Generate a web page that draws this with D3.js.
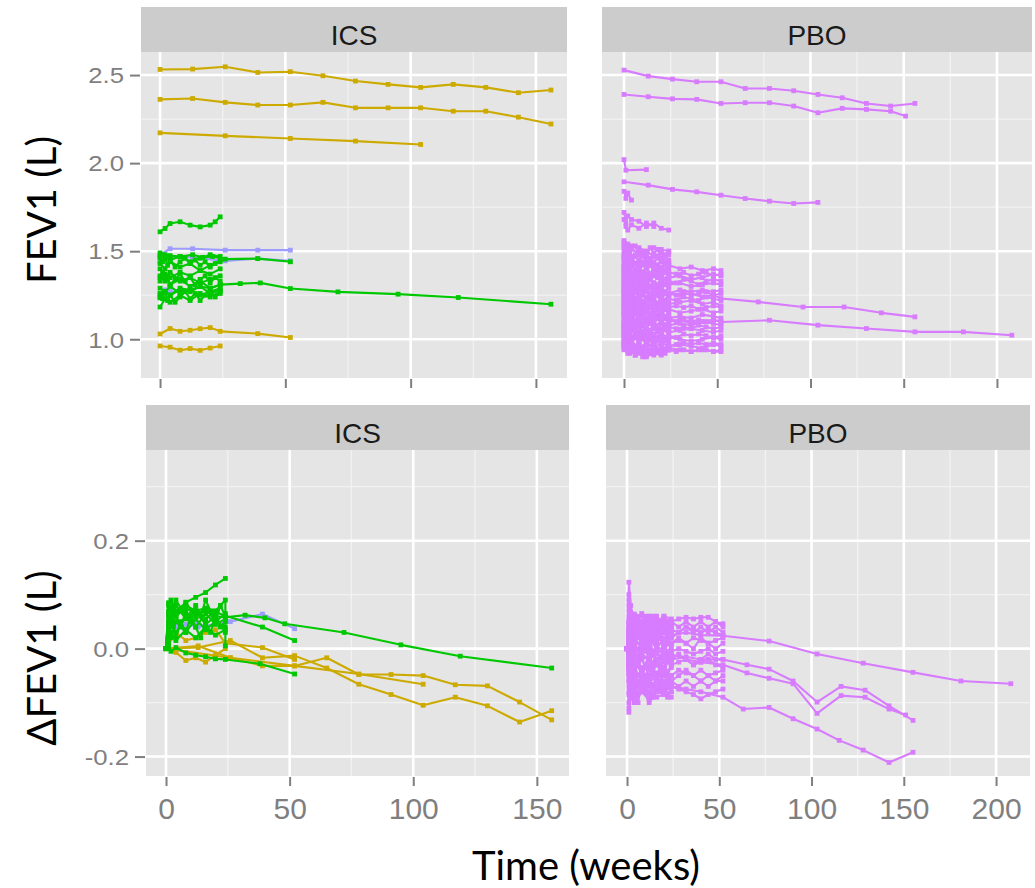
<!DOCTYPE html>
<html>
<head>
<meta charset="utf-8">
<script src="https://cdn.jsdelivr.net/npm/d3@7"></script>
<style>
  html, body { margin: 0; padding: 0; background: #ffffff; }
  svg { display: block; }
</style>
</head>
<body>
<svg id="chart" width="1035" height="888"></svg>
<script>
// ---------------- visit schedules (weeks) ----------------
const visits13   = [0, 13, 26, 39, 52, 65, 78, 91, 104, 117, 130, 143, 156];
const visitsWk24 = [0, 2, 4, 8, 12, 16, 20, 24];
const visitsWk52 = [0, 4, 8, 12, 16, 20, 24, 30, 36, 42, 48, 52];
const visitsD24  = [0, 1, 2, 4, 8, 12, 16, 20, 24];
const visitsD52  = [0, 1, 2, 4, 8, 12, 16, 20, 24, 28, 32, 36, 40, 44, 48, 52];
const visitsDense24 = [0, 1, 2, 3, 4, 6, 8, 10, 12, 14, 16, 18, 20, 22, 24];
const visitsDense52 = [0, 2, 4, 6, 8, 12, 16, 20, 24, 28, 32, 36, 40, 44, 48, 52];

// ---------------- tick labels ----------------
const ticksFev1  = [1.0, 1.5, 2.0, 2.5];
const minorFev1  = [1.25, 1.75, 2.25];
const ticksDelta = [-0.2, 0.0, 0.2];
const minorDelta = [-0.1, 0.1, 0.3];
const ticksWeeksIcs = [0, 50, 100, 150];
const minorWeeksIcs = [25, 75, 125];
const ticksWeeksPbo = [0, 50, 100, 150, 200];
const minorWeeksPbo = [25, 75, 125, 175];
const stripLabels = ["ICS", "PBO"];

// ---------------- FEV1 (L), ICS arm ----------------
const icsFev1 = [
  { grp: "gold",  t: visits13, v: [2.532, 2.534, 2.547, 2.515, 2.519, 2.496, 2.466, 2.447, 2.430, 2.447, 2.430, 2.400, 2.415] },
  { grp: "gold",  t: visits13, v: [2.362, 2.367, 2.345, 2.330, 2.330, 2.345, 2.314, 2.314, 2.314, 2.295, 2.295, 2.261, 2.222] },
  { grp: "gold",  t: [0, 26, 52, 78, 104], v: [2.172, 2.155, 2.140, 2.125, 2.106] },
  { grp: "gold",  t: [0, 4, 8, 12, 16, 20, 24, 39, 52], v: [1.030, 1.061, 1.045, 1.051, 1.060, 1.066, 1.045, 1.032, 1.010] },
  { grp: "gold",  t: [0, 4, 8, 12, 16, 20, 24], v: [0.962, 0.955, 0.938, 0.947, 0.937, 0.950, 0.962] },
  { grp: "blue",  t: [0, 4, 13, 26, 39, 52], v: [1.480, 1.514, 1.514, 1.506, 1.506, 1.506] },
  { grp: "blue",  t: [0, 4, 8, 13, 26, 39, 52], v: [1.440, 1.460, 1.470, 1.465, 1.445, 1.458, 1.445] },
  { grp: "blue",  t: [0, 2, 4, 8, 12], v: [1.255, 1.280, 1.272, 1.268, 1.285] },
  { grp: "green", t: [0, 2, 4, 8, 12, 16, 20, 22, 24], v: [1.610, 1.629, 1.657, 1.667, 1.648, 1.638, 1.648, 1.667, 1.695] },
  { grp: "green", t: [0, 4, 8, 13, 17, 21, 26, 39, 52], v: [1.490, 1.475, 1.470, 1.480, 1.465, 1.470, 1.455, 1.458, 1.440] },
  { grp: "green", t: visitsWk24, v: [1.460, 1.480, 1.450, 1.470, 1.440, 1.460, 1.480, 1.470] },
  { grp: "green", t: visitsWk24, v: [1.430, 1.400, 1.440, 1.410, 1.430, 1.390, 1.420, 1.440] },
  { grp: "green", t: visitsWk24, v: [1.400, 1.370, 1.350, 1.380, 1.360, 1.390, 1.370, 1.400] },
  { grp: "green", t: visitsWk24, v: [1.360, 1.340, 1.380, 1.330, 1.350, 1.320, 1.340, 1.360] },
  { grp: "green", t: visitsWk24, v: [1.330, 1.360, 1.310, 1.340, 1.300, 1.330, 1.290, 1.310] },
  { grp: "green", t: visitsWk24, v: [1.290, 1.270, 1.300, 1.260, 1.280, 1.250, 1.270, 1.290] },
  { grp: "green", t: visitsWk24, v: [1.240, 1.270, 1.250, 1.280, 1.270, 1.300, 1.260, 1.280] },
  { grp: "green", t: visitsWk24, v: [1.183, 1.230, 1.210, 1.250, 1.220, 1.260, 1.240, 1.270] },
  { grp: "green", t: visitsDense24, v: [1.47, 1.44, 1.46, 1.42, 1.45, 1.41, 1.44, 1.46, 1.43, 1.45, 1.42, 1.44, 1.41, 1.43, 1.45] },
  { grp: "green", t: visitsDense24, v: [1.35, 1.38, 1.33, 1.36, 1.31, 1.34, 1.37, 1.33, 1.35, 1.31, 1.34, 1.36, 1.32, 1.35, 1.33] },
  { grp: "green", t: visitsDense24, v: [1.26, 1.23, 1.27, 1.22, 1.25, 1.21, 1.24, 1.27, 1.23, 1.26, 1.22, 1.25, 1.28, 1.24, 1.26] },
  { grp: "green", t: [0, 2, 4, 8, 12, 16, 20, 24, 32, 40, 52, 71, 95, 119, 156],
    v: [1.235, 1.270, 1.250, 1.290, 1.280, 1.300, 1.290, 1.310, 1.316, 1.320, 1.288, 1.269, 1.256, 1.237, 1.199] }
];

// ---------------- FEV1 (L), PBO arm ----------------
const pboFev1 = [
  { t: visits13, v: [2.528, 2.494, 2.477, 2.462, 2.462, 2.424, 2.424, 2.411, 2.390, 2.371, 2.339, 2.324, 2.339] },
  { t: [0, 13, 26, 39, 52, 65, 78, 91, 104, 117, 130, 143, 151], v: [2.390, 2.377, 2.365, 2.362, 2.339, 2.343, 2.343, 2.324, 2.286, 2.311, 2.305, 2.295, 2.267] },
  { t: [0, 1, 12], v: [2.020, 1.960, 1.963] },
  { t: [0, 13, 26, 39, 52, 65, 78, 91, 104], v: [1.894, 1.875, 1.851, 1.837, 1.818, 1.799, 1.784, 1.771, 1.777] },
  { t: [0, 1, 2, 4], v: [1.840, 1.800, 1.830, 1.790] },
  { t: visitsD24, v: [1.720, 1.660, 1.700, 1.680, 1.670, 1.640, 1.660, 1.630, 1.620] },
  { t: [0, 1, 2, 4, 8, 12, 16], v: [1.680, 1.640, 1.620, 1.650, 1.630, 1.660, 1.640] },
  { t: visitsWk24, v: [1.560, 1.540, 1.530, 1.520, 1.500, 1.520, 1.510, 1.500] },
  { t: visitsWk24, v: [1.530, 1.490, 1.520, 1.480, 1.500, 1.470, 1.490, 1.480] },
  { t: visitsWk24, v: [1.500, 1.520, 1.470, 1.490, 1.450, 1.480, 1.460, 1.440] },
  { t: visitsWk24, v: [1.470, 1.440, 1.460, 1.420, 1.450, 1.430, 1.410, 1.430] },
  { t: visitsWk24, v: [1.450, 1.470, 1.430, 1.440, 1.400, 1.420, 1.440, 1.400] },
  { t: visitsWk24, v: [1.420, 1.390, 1.410, 1.380, 1.400, 1.360, 1.390, 1.370] },
  { t: visitsWk24, v: [1.390, 1.410, 1.360, 1.390, 1.350, 1.370, 1.340, 1.360] },
  { t: visitsWk24, v: [1.360, 1.330, 1.350, 1.310, 1.340, 1.320, 1.300, 1.330] },
  { t: visitsWk24, v: [1.330, 1.350, 1.300, 1.330, 1.290, 1.310, 1.330, 1.290] },
  { t: visitsWk24, v: [1.300, 1.270, 1.290, 1.260, 1.280, 1.240, 1.270, 1.250] },
  { t: visitsWk24, v: [1.270, 1.290, 1.240, 1.270, 1.230, 1.260, 1.220, 1.240] },
  { t: visitsWk24, v: [1.240, 1.210, 1.230, 1.190, 1.220, 1.200, 1.180, 1.210] },
  { t: visitsWk24, v: [1.210, 1.230, 1.180, 1.210, 1.170, 1.190, 1.210, 1.170] },
  { t: visitsWk24, v: [1.180, 1.150, 1.170, 1.140, 1.160, 1.120, 1.150, 1.130] },
  { t: visitsWk24, v: [1.150, 1.170, 1.120, 1.150, 1.110, 1.140, 1.100, 1.120] },
  { t: visitsWk24, v: [1.120, 1.090, 1.110, 1.070, 1.100, 1.080, 1.060, 1.090] },
  { t: visitsWk24, v: [1.090, 1.110, 1.060, 1.090, 1.050, 1.070, 1.090, 1.050] },
  { t: visitsWk24, v: [1.060, 1.030, 1.050, 1.020, 1.040, 1.000, 1.030, 1.010] },
  { t: visitsWk24, v: [1.030, 1.050, 1.000, 1.030, 0.990, 1.020, 0.980, 1.000] },
  { t: visitsWk24, v: [1.000, 0.970, 0.990, 0.950, 0.980, 0.960, 0.940, 0.970] },
  { t: visitsWk24, v: [0.980, 0.960, 0.940, 0.920, 0.910, 0.930, 0.950, 0.940] },
  { t: visitsWk24, v: [0.970, 0.990, 0.950, 0.970, 0.930, 0.950, 0.920, 0.940] },
  { t: visitsDense24, v: [1.55, 1.52, 1.54, 1.49, 1.51, 1.53, 1.48, 1.50, 1.47, 1.52, 1.49, 1.51, 1.46, 1.48, 1.50] },
  { t: visitsDense24, v: [1.48, 1.51, 1.46, 1.50, 1.44, 1.47, 1.45, 1.49, 1.43, 1.46, 1.44, 1.41, 1.45, 1.43, 1.42] },
  { t: visitsDense24, v: [1.43, 1.40, 1.44, 1.38, 1.42, 1.39, 1.43, 1.37, 1.40, 1.36, 1.41, 1.38, 1.35, 1.39, 1.37] },
  { t: visitsDense24, v: [1.37, 1.35, 1.32, 1.36, 1.33, 1.37, 1.31, 1.34, 1.30, 1.35, 1.32, 1.29, 1.33, 1.31, 1.34] },
  { t: visitsDense24, v: [1.31, 1.34, 1.29, 1.27, 1.32, 1.28, 1.25, 1.30, 1.27, 1.24, 1.29, 1.26, 1.23, 1.27, 1.25] },
  { t: visitsDense24, v: [1.25, 1.22, 1.26, 1.20, 1.23, 1.19, 1.24, 1.21, 1.18, 1.22, 1.20, 1.17, 1.21, 1.19, 1.16] },
  { t: visitsDense24, v: [1.19, 1.21, 1.16, 1.19, 1.14, 1.17, 1.13, 1.16, 1.12, 1.15, 1.11, 1.14, 1.16, 1.12, 1.14] },
  { t: visitsDense24, v: [1.13, 1.10, 1.14, 1.08, 1.11, 1.07, 1.12, 1.09, 1.06, 1.10, 1.08, 1.05, 1.09, 1.07, 1.06] },
  { t: visitsDense24, v: [1.07, 1.04, 1.02, 1.06, 1.01, 1.04, 1.00, 1.03, 0.99, 1.02, 0.98, 1.01, 1.03, 0.99, 1.01] },
  { t: visitsDense24, v: [1.01, 0.98, 1.00, 0.96, 0.99, 0.95, 0.97, 0.93, 0.96, 0.92, 0.95, 0.93, 0.96, 0.94, 0.95] },
  { t: visitsDense24, v: [0.95, 0.97, 0.94, 0.92, 0.95, 0.91, 0.93, 0.90, 0.92, 0.94, 0.91, 0.93, 0.95, 0.92, 0.94] },
  { t: visitsDense24, v: [1.52, 1.49, 1.47, 1.50, 1.46, 1.48, 1.51, 1.47, 1.49, 1.45, 1.48, 1.46, 1.49, 1.47, 1.45] },
  { t: visitsDense24, v: [1.46, 1.43, 1.47, 1.41, 1.45, 1.42, 1.40, 1.44, 1.41, 1.43, 1.39, 1.42, 1.40, 1.43, 1.41] },
  { t: visitsDense24, v: [1.40, 1.42, 1.37, 1.40, 1.35, 1.38, 1.36, 1.33, 1.37, 1.34, 1.38, 1.35, 1.37, 1.34, 1.36] },
  { t: visitsDense24, v: [1.34, 1.31, 1.35, 1.29, 1.33, 1.30, 1.34, 1.28, 1.31, 1.29, 1.26, 1.30, 1.28, 1.31, 1.29] },
  { t: visitsDense24, v: [1.28, 1.30, 1.26, 1.24, 1.28, 1.23, 1.27, 1.25, 1.22, 1.26, 1.23, 1.20, 1.24, 1.22, 1.20] },
  { t: visitsDense24, v: [1.22, 1.19, 1.23, 1.17, 1.21, 1.18, 1.16, 1.20, 1.17, 1.19, 1.15, 1.18, 1.14, 1.17, 1.15] },
  { t: visitsDense24, v: [1.16, 1.18, 1.13, 1.16, 1.12, 1.15, 1.11, 1.14, 1.10, 1.13, 1.09, 1.12, 1.10, 1.08, 1.11] },
  { t: visitsDense24, v: [1.10, 1.07, 1.11, 1.05, 1.09, 1.06, 1.04, 1.08, 1.05, 1.03, 1.07, 1.04, 1.02, 1.06, 1.04] },
  { t: visitsDense24, v: [1.04, 1.06, 1.01, 1.04, 0.99, 1.02, 0.98, 1.01, 0.97, 1.00, 0.96, 0.99, 0.97, 1.00, 0.98] },
  { t: visitsWk52, v: [1.410, 1.440, 1.400, 1.430, 1.410, 1.390, 1.420, 1.400, 1.410, 1.390, 1.400, 1.390] },
  { t: visitsWk52, v: [1.360, 1.330, 1.370, 1.340, 1.360, 1.330, 1.350, 1.360, 1.340, 1.350, 1.370, 1.360] },
  { t: visitsWk52, v: [1.320, 1.340, 1.300, 1.330, 1.290, 1.320, 1.310, 1.320, 1.300, 1.310, 1.320, 1.310] },
  { t: visitsWk52, v: [1.270, 1.250, 1.280, 1.240, 1.270, 1.250, 1.260, 1.280, 1.270, 1.280, 1.270, 1.280] },
  { t: visitsWk52, v: [1.220, 1.240, 1.200, 1.230, 1.210, 1.220, 1.200, 1.210, 1.220, 1.200, 1.210, 1.190] },
  { t: visitsWk52, v: [1.180, 1.150, 1.190, 1.160, 1.180, 1.150, 1.170, 1.150, 1.160, 1.170, 1.150, 1.160] },
  { t: visitsWk52, v: [1.140, 1.160, 1.120, 1.150, 1.130, 1.140, 1.120, 1.130, 1.120, 1.140, 1.130, 1.120] },
  { t: visitsWk52, v: [1.100, 1.080, 1.110, 1.090, 1.070, 1.100, 1.080, 1.090, 1.080, 1.100, 1.090, 1.080] },
  { t: visitsWk52, v: [1.050, 1.070, 1.040, 1.060, 1.030, 1.050, 1.040, 1.050, 1.060, 1.050, 1.040, 1.050] },
  { t: visitsWk52, v: [1.020, 0.990, 1.010, 0.980, 1.000, 0.990, 1.010, 1.000, 0.990, 1.000, 1.010, 1.000] },
  { t: visitsWk52, v: [0.990, 0.960, 0.940, 0.970, 0.950, 0.980, 0.960, 0.970, 0.960, 0.950, 0.970, 0.960] },
  { t: visitsWk52, v: [0.960, 0.930, 0.950, 0.920, 0.940, 0.930, 0.950, 0.940, 0.930, 0.940, 0.930, 0.930] },
  { t: visitsDense52, v: [1.39, 1.36, 1.38, 1.35, 1.37, 1.34, 1.38, 1.36, 1.38, 1.37, 1.38, 1.36, 1.37, 1.38, 1.36, 1.37] },
  { t: visitsDense52, v: [1.34, 1.31, 1.33, 1.30, 1.32, 1.29, 1.31, 1.30, 1.33, 1.32, 1.34, 1.33, 1.31, 1.33, 1.34, 1.33] },
  { t: visitsDense52, v: [1.29, 1.31, 1.27, 1.30, 1.26, 1.28, 1.25, 1.29, 1.26, 1.25, 1.27, 1.25, 1.26, 1.27, 1.25, 1.26] },
  { t: visitsDense52, v: [1.24, 1.21, 1.23, 1.20, 1.24, 1.21, 1.22, 1.19, 1.23, 1.22, 1.24, 1.23, 1.22, 1.24, 1.23, 1.22] },
  { t: visitsDense52, v: [1.19, 1.21, 1.17, 1.20, 1.16, 1.19, 1.17, 1.15, 1.18, 1.19, 1.18, 1.19, 1.17, 1.18, 1.19, 1.18] },
  { t: visitsDense52, v: [1.15, 1.12, 1.14, 1.11, 1.13, 1.10, 1.14, 1.11, 1.12, 1.10, 1.11, 1.10, 1.11, 1.10, 1.11, 1.10] },
  { t: visitsDense52, v: [1.07, 1.05, 1.08, 1.04, 1.07, 1.03, 1.06, 1.04, 1.07, 1.06, 1.07, 1.06, 1.08, 1.07, 1.06, 1.07] },
  { t: visitsDense52, v: [1.03, 1.01, 0.98, 1.02, 0.99, 1.01, 0.97, 1.00, 1.02, 1.01, 1.03, 1.02, 1.03, 1.02, 1.01, 1.02] },
  { t: visitsDense52, v: [0.98, 0.95, 0.97, 0.94, 0.96, 0.93, 0.95, 0.92, 0.96, 0.97, 0.98, 0.97, 0.98, 0.97, 0.98, 0.97] },
  { t: visitsDense52, v: [0.94, 0.92, 0.95, 0.91, 0.93, 0.90, 0.92, 0.91, 0.94, 0.93, 0.94, 0.93, 0.94, 0.94, 0.93, 0.94] },
  { t: [0, 4, 8, 12, 16, 20, 24, 30, 36, 42, 48, 52, 72, 96, 118, 138, 156],
    v: [1.260, 1.280, 1.250, 1.270, 1.260, 1.240, 1.260, 1.250, 1.260, 1.240, 1.250, 1.231, 1.212, 1.183, 1.183, 1.150, 1.127] },
  { t: [0, 4, 8, 12, 16, 20, 24, 30, 36, 42, 48, 52, 78, 104, 130, 156, 182, 208],
    v: [1.080, 1.100, 1.090, 1.110, 1.100, 1.120, 1.100, 1.110, 1.090, 1.100, 1.110, 1.098, 1.108, 1.080, 1.061, 1.042, 1.042, 1.023] }
];

// ---------------- change from baseline (L), ICS arm ----------------
const icsDelta = [
  { grp: "gold",  t: visits13, v: [0, 0.002, 0.015, -0.017, -0.013, -0.036, -0.066, -0.085, -0.105, -0.090, -0.106, -0.136, -0.115] },
  { grp: "gold",  t: visits13, v: [0, 0.005, -0.017, -0.032, -0.032, -0.017, -0.048, -0.048, -0.050, -0.067, -0.069, -0.099, -0.132] },
  { grp: "gold",  t: [0, 26, 52, 78, 104], v: [0, -0.017, -0.032, -0.047, -0.066] },
  { grp: "gold",  t: [0, 4, 8, 12, 16, 20, 24, 39, 52], v: [0, 0.030, 0.015, 0.020, 0.030, 0.035, 0.010, 0.002, -0.020] },
  { grp: "gold",  t: [0, 4, 8, 12, 16, 20, 24], v: [0, -0.007, -0.022, -0.017, -0.025, -0.012, 0.000] },
  { grp: "blue",  t: [0, 1, 2, 4, 8, 13, 26, 39, 52], v: [0, 0.035, 0.050, 0.040, 0.045, 0.040, 0.050, 0.064, 0.037] },
  { grp: "blue",  t: visitsD24, v: [0, 0.020, 0.030, 0.045, 0.035, 0.050, 0.040, 0.045, 0.050] },
  { grp: "green", t: visitsD24, v: [0, 0.030, 0.045, 0.060, 0.086, 0.095, 0.104, 0.118, 0.130] },
  { grp: "green", t: [0, 1, 2, 4, 8, 12, 16, 20, 24, 32, 40, 48, 72, 95, 119, 156],
    v: [0, 0.050, 0.070, 0.060, 0.075, 0.065, 0.070, 0.060, 0.058, 0.062, 0.057, 0.046, 0.030, 0.007, -0.014, -0.036] },
  { grp: "green", t: [0, 1, 2, 4, 8, 12, 16, 20, 24, 38, 52], v: [0, 0.005, -0.005, 0.002, -0.008, -0.012, -0.015, -0.019, -0.020, -0.028, -0.047] },
  { grp: "green", t: [0, 1, 2, 4, 8, 12, 16, 20, 24, 39, 52], v: [0, 0.060, 0.075, 0.065, 0.080, 0.070, 0.075, 0.068, 0.061, 0.040, 0.015] },
  { grp: "green", t: visitsD24, v: [0, 0.080, 0.090, 0.070, 0.085, 0.060, 0.075, 0.050, 0.065] },
  { grp: "green", t: visitsD24, v: [0, 0.040, 0.020, 0.050, 0.030, 0.055, 0.035, 0.050, 0.040] },
  { grp: "green", t: visitsD24, v: [0, 0.020, 0.045, 0.030, 0.060, 0.040, 0.065, 0.045, 0.055] },
  { grp: "green", t: visitsD24, v: [0, 0.065, 0.050, 0.080, 0.055, 0.070, 0.045, 0.060, 0.030] },
  { grp: "green", t: visitsD24, v: [0, 0.010, 0.030, 0.015, 0.035, 0.020, 0.040, 0.025, 0.035] },
  { grp: "green", t: visitsDense24, v: [0, 0.07, 0.05, 0.08, 0.06, 0.04, 0.07, 0.05, 0.08, 0.06, 0.09, 0.07, 0.05, 0.08, 0.06] },
  { grp: "green", t: visitsDense24, v: [0, 0.03, 0.06, 0.04, 0.02, 0.05, 0.03, 0.06, 0.04, 0.02, 0.05, 0.03, 0.06, 0.04, 0.05] },
  { grp: "green", t: [0, 1, 2, 4, 8, 12, 16, 20, 24, 24], v: [0, 0.085, 0.070, 0.090, 0.060, 0.075, 0.055, 0.070, 0.090, 0.005] }
];

// ---------------- change from baseline (L), PBO arm ----------------
const pboDelta = [
  { t: visitsD24, v: [0, 0.123, 0.080, 0.050, 0.040, 0.030, 0.050, 0.040, 0.030] },
  { t: visitsD24, v: [0, 0.100, 0.060, 0.064, 0.050, 0.060, 0.040, 0.055, 0.050] },
  { t: visitsD24, v: [0, -0.118, -0.090, -0.100, -0.080, -0.095, -0.090, -0.085, -0.080] },
  { t: visitsD24, v: [0, 0.060, 0.040, 0.055, 0.060, 0.045, 0.050, 0.060, 0.055] },
  { t: visitsD24, v: [0, 0.030, 0.045, 0.020, 0.035, 0.015, 0.030, 0.010, 0.020] },
  { t: visitsD24, v: [0, -0.030, -0.010, -0.040, -0.020, -0.050, -0.030, -0.045, -0.035] },
  { t: visitsD24, v: [0, 0.015, -0.005, 0.020, 0.000, 0.025, 0.005, 0.015, 0.010] },
  { t: visitsD24, v: [0, -0.060, -0.075, -0.050, -0.070, -0.055, -0.080, -0.060, -0.070] },
  { t: visitsD24, v: [0, 0.045, 0.025, 0.040, 0.020, 0.035, 0.015, 0.030, 0.040] },
  { t: visitsD24, v: [0, -0.020, -0.040, -0.025, -0.045, -0.030, -0.020, -0.035, -0.015] },
  { t: visitsD24, v: [0, -0.085, -0.065, -0.090, -0.070, -0.100, -0.080, -0.075, -0.090] },
  { t: visitsD24, v: [0, 0.005, 0.020, -0.010, 0.010, -0.015, 0.005, -0.005, 0.000] },
  { t: visitsD24, v: [0, 0.080, 0.055, 0.060, 0.035, 0.050, 0.030, 0.045, 0.025] },
  { t: visitsD24, v: [0, -0.045, -0.030, -0.055, -0.040, -0.060, -0.045, -0.050, -0.060] },
  { t: visitsD24, v: [0, 0.035, 0.060, 0.045, 0.065, 0.040, 0.055, 0.035, 0.045] },
  { t: visitsD24, v: [0, -0.100, -0.080, -0.095, -0.075, -0.090, -0.070, -0.085, -0.065] },
  { t: visitsDense24, v: [0, 0.07, 0.04, 0.06, 0.03, 0.05, 0.02, 0.04, 0.06, 0.03, 0.05, 0.04, 0.06, 0.03, 0.05] },
  { t: visitsDense24, v: [0, -0.04, -0.06, -0.03, -0.05, -0.02, -0.04, -0.07, -0.03, -0.05, -0.06, -0.04, -0.02, -0.05, -0.03] },
  { t: visitsDense24, v: [0, 0.02, -0.01, 0.03, 0.01, -0.02, 0.02, 0.00, 0.03, -0.01, 0.01, 0.02, -0.01, 0.01, 0.00] },
  { t: visitsDense24, v: [0, -0.08, -0.06, -0.09, -0.07, -0.10, -0.06, -0.08, -0.09, -0.07, -0.05, -0.08, -0.06, -0.09, -0.07] },
  { t: visitsDense24, v: [0, 0.05, 0.06, 0.03, 0.05, 0.02, 0.04, 0.06, 0.03, 0.05, 0.02, 0.04, 0.05, 0.02, 0.04] },
  { t: visitsDense24, v: [0, -0.02, -0.03, -0.01, -0.04, -0.02, -0.05, -0.03, -0.01, -0.04, -0.02, -0.03, -0.05, -0.02, -0.03] },
  { t: visitsDense24, v: [0, 0.09, 0.06, 0.04, 0.06, 0.05, 0.03, 0.05, 0.04, 0.06, 0.03, 0.05, 0.04, 0.02, 0.04] },
  { t: visitsDense24, v: [0, -0.06, -0.05, -0.07, -0.04, -0.06, -0.08, -0.05, -0.07, -0.04, -0.06, -0.05, -0.07, -0.06, -0.05] },
  { t: visitsDense24, v: [0, 0.01, 0.03, 0.00, 0.02, 0.04, 0.01, 0.03, 0.00, 0.02, 0.01, 0.03, 0.00, 0.02, 0.01] },
  { t: visitsDense24, v: [0, -0.11, -0.08, -0.06, -0.09, -0.07, -0.05, -0.08, -0.06, -0.09, -0.07, -0.06, -0.08, -0.07, -0.08] },
  { t: visitsDense24, v: [0, 0.04, 0.02, 0.05, 0.03, 0.06, 0.04, 0.02, 0.05, 0.03, 0.06, 0.04, 0.03, 0.05, 0.03] },
  { t: visitsDense24, v: [0, -0.01, 0.01, -0.03, -0.01, 0.00, -0.02, 0.01, -0.01, -0.03, 0.00, -0.02, 0.01, -0.01, -0.02] },
  { t: visitsD52, v: [0, 0.050, 0.040, 0.060, 0.045, 0.055, 0.050, 0.045, 0.050, 0.055, 0.058, 0.055, 0.058, 0.058, 0.050, 0.046] },
  { t: visitsD52, v: [0, 0.030, 0.020, 0.035, 0.025, 0.030, 0.020, 0.030, 0.035, 0.030, 0.040, 0.035, 0.030, 0.035, 0.030, 0.025] },
  { t: visitsD52, v: [0, 0.010, 0.020, 0.005, 0.015, 0.010, 0.020, 0.015, 0.010, 0.015, 0.010, 0.020, 0.015, 0.010, 0.015, 0.020] },
  { t: visitsD52, v: [0, -0.010, 0.000, -0.015, -0.005, -0.010, 0.000, -0.010, -0.005, 0.000, -0.005, -0.010, -0.005, 0.000, -0.010, -0.005] },
  { t: visitsD52, v: [0, -0.030, -0.020, -0.025, -0.035, -0.020, -0.030, -0.025, -0.030, -0.025, -0.020, -0.030, -0.025, -0.020, -0.030, -0.035] },
  { t: visitsD52, v: [0, -0.050, -0.040, -0.045, -0.055, -0.040, -0.050, -0.045, -0.050, -0.040, -0.045, -0.050, -0.040, -0.050, -0.045, -0.040] },
  { t: visitsD52, v: [0, -0.070, -0.060, -0.065, -0.075, -0.060, -0.070, -0.065, -0.070, -0.075, -0.080, -0.085, -0.093, -0.085, -0.080, -0.075] },
  { t: visitsDense52, v: [0, 0.04, 0.05, 0.03, 0.05, 0.04, 0.06, 0.04, 0.05, 0.04, 0.05, 0.04, 0.05, 0.04, 0.05, 0.04] },
  { t: visitsDense52, v: [0, 0.02, 0.01, 0.03, 0.01, 0.02, 0.00, 0.02, 0.01, 0.02, 0.01, 0.00, 0.02, 0.01, 0.00, 0.01] },
  { t: visitsDense52, v: [0, -0.02, -0.01, -0.03, -0.01, -0.02, -0.03, -0.01, -0.02, -0.01, -0.02, -0.03, -0.02, -0.01, -0.02, -0.02] },
  { t: visitsDense52, v: [0, -0.04, -0.03, -0.05, -0.04, -0.03, -0.05, -0.04, -0.06, -0.05, -0.04, -0.05, -0.06, -0.05, -0.06, -0.05] },
  { t: visitsDense52, v: [0, -0.06, -0.05, -0.07, -0.06, -0.08, -0.06, -0.07, -0.06, -0.07, -0.06, -0.07, -0.06, -0.07, -0.06, -0.06] },
  { t: visitsDense52, v: [0, 0.03, 0.04, 0.02, 0.04, 0.03, 0.04, 0.03, 0.02, 0.03, 0.04, 0.03, 0.04, 0.03, 0.04, 0.03] },
  { t: [0, 1, 2, 4, 8, 12, 16, 20, 24, 32, 40, 52, 77, 103, 128, 155, 181, 208],
    v: [0, 0.020, 0.030, 0.025, 0.035, 0.030, 0.020, 0.030, 0.025, 0.030, 0.025, 0.024, 0.014, -0.010, -0.027, -0.044, -0.060, -0.065] },
  { t: [0, 1, 2, 4, 8, 12, 16, 20, 24, 32, 40, 52, 65, 77, 90, 103, 116, 129, 142, 155],
    v: [0, -0.010, -0.020, -0.010, -0.015, -0.020, -0.010, -0.015, -0.020, -0.015, -0.020, -0.020, -0.030, -0.038, -0.060, -0.099, -0.070, -0.077, -0.106, -0.133] },
  { t: [0, 1, 2, 4, 8, 12, 16, 20, 24, 32, 40, 52, 65, 77, 90, 103, 116, 129, 142, 151],
    v: [0, 0.010, 0.000, -0.010, 0.005, -0.005, -0.010, 0.000, -0.010, -0.020, -0.025, -0.030, -0.045, -0.055, -0.065, -0.120, -0.087, -0.090, -0.112, -0.123] },
  { t: [0, 1, 2, 4, 8, 12, 16, 20, 24, 32, 40, 52, 63, 77, 90, 103, 115, 128, 142, 155],
    v: [0, -0.030, -0.040, -0.050, -0.045, -0.060, -0.055, -0.065, -0.070, -0.075, -0.080, -0.090, -0.112, -0.109, -0.130, -0.149, -0.170, -0.188, -0.211, -0.192] }
];

// ---------------- appearance ----------------
const groupColor = { gold: "#CDAA00", green: "#00C800", blue: "#9E9CFF", violet: "#D77BFF" };
const tickFont = "'Liberation Sans', Arial, sans-serif";
const titleFont = "Lato, 'Open Sans', sans-serif";

const svg = d3.select("#chart");

// panel frames (pixel boxes) and the data window each one shows
const panels = [
  { series: icsFev1, label: stripLabels[0], box: [141, 52, 567, 378], strip: 7,
    xDom: [-7.6, 162.4], yDom: [0.780, 2.631], xTicks: ticksWeeksIcs, xMinor: minorWeeksIcs,
    yTicks: ticksFev1, yMinor: minorFev1, yLabels: true, xLabels: false },
  { series: pboFev1, label: stripLabels[1], box: [602, 52, 1032, 378], strip: 7,
    xDom: [-11.8, 218.8], yDom: [0.780, 2.631], xTicks: ticksWeeksPbo, xMinor: minorWeeksPbo,
    yTicks: ticksFev1, yMinor: minorFev1, yLabels: false, xLabels: false },
  { series: icsDelta, label: stripLabels[0], box: [146, 450, 569, 776], strip: 405,
    xDom: [-8.1, 163.0], yDom: [-0.236, 0.368], xTicks: ticksWeeksIcs, xMinor: minorWeeksIcs,
    yTicks: ticksDelta, yMinor: minorDelta, yLabels: true, xLabels: true },
  { series: pboDelta, label: stripLabels[1], box: [606, 450, 1030, 776], strip: 405,
    xDom: [-11.4, 218.4], yDom: [-0.236, 0.368], xTicks: ticksWeeksPbo, xMinor: minorWeeksPbo,
    yTicks: ticksDelta, yMinor: minorDelta, yLabels: false, xLabels: true }
];

panels.forEach(p => {
  const [x0, y0, x1, y1] = p.box;
  const x = d3.scaleLinear().domain(p.xDom).range([x0, x1]);
  const y = d3.scaleLinear().domain(p.yDom).range([y1, y0]);
  const g = svg.append("g");

  // strip
  g.append("rect").attr("x", x0).attr("y", p.strip).attr("width", x1 - x0).attr("height", y0 - p.strip)
    .attr("fill", "#CCCCCC");
  g.append("text").attr("x", (x0 + x1) / 2).attr("y", y0 - 7)
    .attr("text-anchor", "middle").attr("font-family", tickFont).attr("font-size", 28)
    .attr("fill", "#1A1A1A").text(p.label);

  // panel background
  g.append("rect").attr("x", x0).attr("y", y0).attr("width", x1 - x0).attr("height", y1 - y0)
    .attr("fill", "#E5E5E5");

  // minor grid
  g.selectAll("line.xminor").data(p.xMinor).join("line")
    .attr("x1", d => x(d)).attr("x2", d => x(d)).attr("y1", y0).attr("y2", y1)
    .attr("stroke", "#F2F2F2").attr("stroke-width", 1.3);
  g.selectAll("line.yminor").data(p.yMinor.filter(d => d > p.yDom[0] && d < p.yDom[1])).join("line")
    .attr("y1", d => y(d)).attr("y2", d => y(d)).attr("x1", x0).attr("x2", x1)
    .attr("stroke", "#F2F2F2").attr("stroke-width", 1.3);
  // major grid
  g.selectAll("line.xmajor").data(p.xTicks).join("line")
    .attr("x1", d => x(d)).attr("x2", d => x(d)).attr("y1", y0).attr("y2", y1)
    .attr("stroke", "#FFFFFF").attr("stroke-width", 2.6);
  g.selectAll("line.ymajor").data(p.yTicks).join("line")
    .attr("y1", d => y(d)).attr("y2", d => y(d)).attr("x1", x0).attr("x2", x1)
    .attr("stroke", "#FFFFFF").attr("stroke-width", 2.6);

  // subject trajectories: lines then visit markers
  const line = d3.line().x(d => x(d[0])).y(d => y(d[1]));
  const order = ["gold", "blue", "green"];
  const sorted = p.series.slice().sort((a, b) =>
    order.indexOf(a.grp || "violet") - order.indexOf(b.grp || "violet"));
  sorted.forEach(s => {
    const col = groupColor[s.grp || "violet"];
    const pts = s.t.map((t, i) => [t, s.v[i]]);
    g.append("path").attr("d", line(pts)).attr("fill", "none")
      .attr("stroke", col).attr("stroke-width", 2.1).attr("stroke-linejoin", "round");
    g.selectAll(null).data(pts).join("rect")
      .attr("x", d => x(d[0]) - 2.4).attr("y", d => y(d[1]) - 2.4)
      .attr("width", 4.8).attr("height", 4.8).attr("fill", col);
  });

  // x axis ticks (and labels on the bottom row)
  const xAxis = d3.axisBottom(x).tickValues(p.xTicks).tickSize(9).tickPadding(12)
    .tickFormat(p.xLabels ? d3.format("d") : () => "");
  const gx = svg.append("g").attr("transform", `translate(0,${y1 + 1})`).call(xAxis);
  gx.select(".domain").remove();
  gx.selectAll(".tick line").attr("stroke", "#7F7F7F").attr("stroke-width", 2);
  gx.selectAll(".tick text").attr("font-family", tickFont).attr("font-size", 30)
    .attr("fill", "#7F7F7F").attr("dy", "0.71em");

  // y axis ticks and labels (left column only)
  if (p.yLabels) {
    const yAxis = d3.axisLeft(y).tickValues(p.yTicks).tickSize(10).tickFormat(() => "");
    const gy = svg.append("g").attr("transform", `translate(${x0 - 1},0)`).call(yAxis);
    gy.select(".domain").remove();
    gy.selectAll(".tick line").attr("stroke", "#7F7F7F").attr("stroke-width", 2);
    const fmt = d => d3.format(".1f")(d).replace("\u2212", "-");
    svg.append("g").selectAll("text").data(p.yTicks).join("text")
      .attr("transform", d => `translate(${x0 - 17},${y(d)}) scale(1.12,1)`)
      .attr("text-anchor", "end").attr("dy", "0.36em")
      .attr("font-family", tickFont).attr("font-size", 23).attr("fill", "#7F7F7F")
      .text(d => fmt(d));
  }
});

// axis titles
svg.append("text").attr("transform", "translate(56,210) rotate(-90)")
  .attr("text-anchor", "middle").attr("font-family", titleFont).attr("font-size", 40)
  .attr("fill", "#000").text("FEV1 (L)");
svg.append("text").attr("transform", "translate(56,658) rotate(-90)")
  .attr("text-anchor", "middle").attr("font-family", titleFont).attr("font-size", 40)
  .attr("fill", "#000").text("\u0394FEV1 (L)");
svg.append("text").attr("x", 586).attr("y", 880)
  .attr("text-anchor", "middle").attr("font-family", titleFont).attr("font-size", 40)
  .attr("fill", "#000").text("Time (weeks)");
</script>
</body>
</html>
